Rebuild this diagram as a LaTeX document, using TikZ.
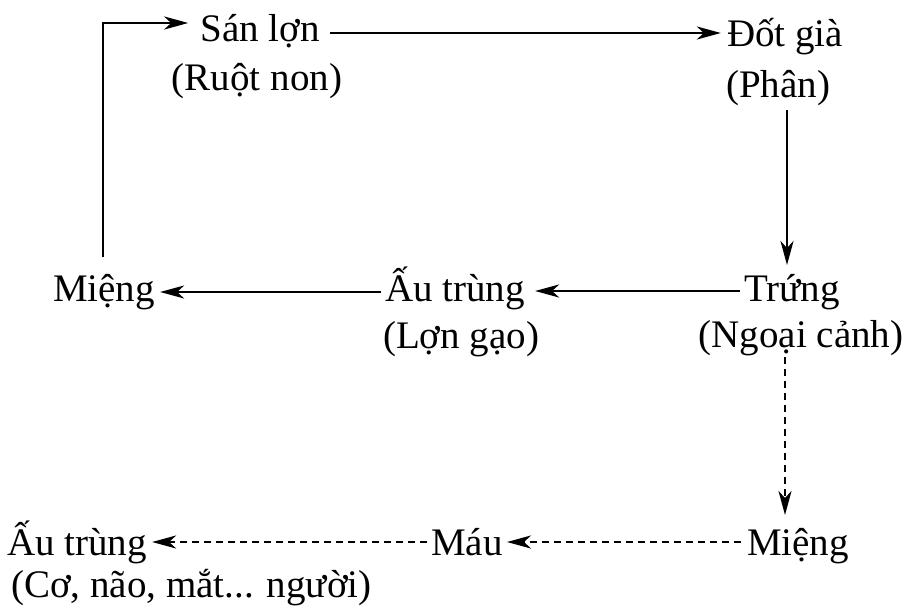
\documentclass[tikz,border=0pt]{standalone}
\usepackage{fontspec}
\setmainfont{Liberation Serif}
\usetikzlibrary{arrows.meta}
\begin{document}
\begin{tikzpicture}[x=1pt,y=-1pt,
  lbl/.style={inner sep=0pt, anchor=base, font=\fontsize{39}{46}\selectfont},
  arr/.style={line width=2.6pt, -{Stealth[length=24pt,width=13pt,inset=7pt]}},
  darr/.style={arr, dash pattern=on 7pt off 5pt}]
\useasboundingbox (0,0) rectangle (907,610);
% top row
\node[lbl] (san) at (260,42) {Sán lợn};
\node[lbl] (ruot) at (257,90) {(Ruột non)};
\node[lbl] (dot) at (785,47) {Đốt già};
\node[lbl] (phan) at (778,97) {(Phân)};
% middle row
\node[lbl] (mieng1) at (104,301) {Miệng};
\node[lbl] (au1) at (455,301) {Ấu trùng};
\node[lbl] (lon) at (461,348) {(Lợn gạo)};
\node[lbl] (trung) at (792,301) {Trứng};
\node[lbl] (ngoai) at (801,347) {(Ngoại cảnh)};
% bottom row
\node[lbl] (au2) at (77,555) {Ấu trùng};
\node[lbl, anchor=base west] (co) at (11,597) {(Cơ, não, mắt... người)};
\node[lbl] (mau) at (467,555) {Máu};
\node[lbl] (mieng2) at (798,555) {Miệng};
% solid connectors
\draw[arr] ([shift={(-1,-44)}]mieng1.base) |- ([shift={(-12,-19)}]san.base west);
\draw[arr] ([shift={(10,-9)}]san.base east) -- ([shift={(-6,-14)}]dot.base west);
\draw[arr] ([shift={(9,13)}]phan.base) -- ([shift={(-5,-36)}]trung.base);
\draw[arr] ([shift={(-4,-10)}]trung.base west) -- ([shift={(10,-10)}]au1.base east);
\draw[arr] ([shift={(-4,-9)}]au1.base west) -- ([shift={(5,-9)}]mieng1.base east);
% dashed connectors
\draw[darr] ([shift={(-16,10)}]ngoai.base) -- ([shift={(-13,-40)}]mieng2.base);
\draw[darr] ([shift={(-6,-13)}]mieng2.base west) -- ([shift={(4,-13)}]mau.base east);
\draw[darr] ([shift={(-4,-13)}]mau.base west) -- ([shift={(5,-13)}]au2.base east);
\end{tikzpicture}
\end{document}
